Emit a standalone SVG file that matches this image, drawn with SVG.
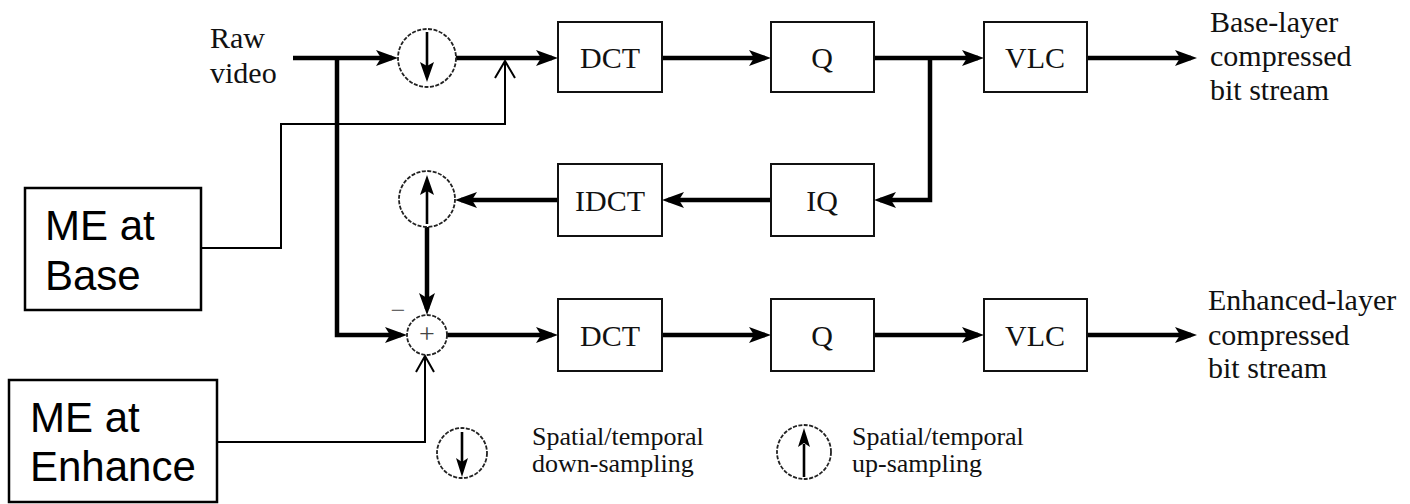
<svg xmlns="http://www.w3.org/2000/svg" width="1410" height="504" viewBox="0 0 1410 504">
<style>
  .blk{fill:#fff;stroke:#111;stroke-width:2}
  .me{fill:#fff;stroke:#000;stroke-width:2.5}
  .lbl{font-family:"Liberation Serif","Times New Roman",serif;font-size:30px;fill:#111}
  .ctr{text-anchor:middle}
  .leg{font-family:"Liberation Serif","Times New Roman",serif;font-size:26px;fill:#111}
  .metxt{font-family:"Liberation Sans",Arial,sans-serif;font-size:42px;fill:#000}
  .sig{fill:none;stroke:#000;stroke-width:4.5;marker-end:url(#ah)}
  .thin{fill:none;stroke:#000;stroke-width:2}
  .circ{fill:#fff;stroke:#222;stroke-width:1.8;stroke-dasharray:4 1.5}
  .inner{fill:none;stroke:#000;stroke-width:2.6}
  .head{fill:#000;stroke:none}
</style>
<defs>
  <marker id="ah" viewBox="-17 -9 24 18" refX="0" refY="0" markerWidth="24" markerHeight="18" markerUnits="userSpaceOnUse" orient="auto">
    <path d="M6,0 L-16,-8 L-11,0 L-16,8 Z" fill="#000"/>
  </marker>
</defs>

<g id="connectors">
  <path class="sig" d="M293,58 H392"/>
  <path class="sig" d="M337,58 V335 H401"/>
  <path class="sig" d="M456,58 H552"/>
  <path class="sig" d="M662,58 H765"/>
  <path class="sig" d="M874,58 H978"/>
  <path class="sig" d="M1087,58 H1191"/>
  <path class="sig" d="M930,58 V200 H880"/>
  <path class="sig" d="M771,200 H668"/>
  <path class="sig" d="M558,200 H461"/>
  <path class="sig" d="M427,227 V309"/>
  <path class="sig" d="M447,335 H552"/>
  <path class="sig" d="M662,335 H765"/>
  <path class="sig" d="M874,335 H978"/>
  <path class="sig" d="M1087,335 H1191"/>
  <path class="thin" d="M201,248 H281 V124 H505 V61"/>
  <path class="thin" d="M495,78 L505,61 L515,78"/>
  <path class="thin" d="M217,442 H425 V356"/>
  <path class="thin" d="M416,372 L425,356 L434,372"/>
</g>

<g id="raw-video">
  <text class="lbl" x="210" y="48">Raw</text>
  <text class="lbl" x="210" y="83">video</text>
</g>

<g id="down-sampler">
  <circle class="circ" cx="427" cy="58" r="29"/>
  <line class="inner" x1="427" y1="32" x2="427" y2="68"/>
  <path class="head" d="M427,82 L420,62 L427,66 L434,62 Z"/>
</g>

<g id="dct-base">
  <rect class="blk" x="558" y="22" width="104" height="70"/>
  <text class="lbl ctr" x="610" y="68">DCT</text>
</g>
<g id="q-base">
  <rect class="blk" x="771" y="22" width="103" height="70"/>
  <text class="lbl ctr" x="822" y="68">Q</text>
</g>
<g id="vlc-base">
  <rect class="blk" x="984" y="22" width="103" height="70"/>
  <text class="lbl ctr" x="1035" y="68">VLC</text>
</g>
<g id="base-output">
  <text class="lbl" x="1210" y="32">Base-layer</text>
  <text class="lbl" x="1210" y="66">compressed</text>
  <text class="lbl" x="1210" y="100">bit stream</text>
</g>

<g id="iq">
  <rect class="blk" x="771" y="164" width="103" height="72"/>
  <text class="lbl ctr" x="822" y="211">IQ</text>
</g>
<g id="idct">
  <rect class="blk" x="558" y="164" width="104" height="72"/>
  <text class="lbl ctr" x="610" y="211">IDCT</text>
</g>
<g id="up-sampler">
  <circle class="circ" cx="427" cy="199" r="28"/>
  <line class="inner" x1="427" y1="224" x2="427" y2="190"/>
  <path class="head" d="M427,175 L420,195 L427,191 L434,195 Z"/>
</g>

<g id="sum">
  <circle class="circ" cx="427" cy="335" r="20"/>
  <text x="427" y="343" text-anchor="middle" font-family="'Liberation Serif','Times New Roman',serif" font-size="28" fill="#444">+</text>
  <text x="398" y="319" text-anchor="middle" font-family="'Liberation Serif','Times New Roman',serif" font-size="26" fill="#666">−</text>
</g>

<g id="dct-enh">
  <rect class="blk" x="558" y="299" width="104" height="72"/>
  <text class="lbl ctr" x="610" y="346">DCT</text>
</g>
<g id="q-enh">
  <rect class="blk" x="771" y="299" width="103" height="72"/>
  <text class="lbl ctr" x="822" y="346">Q</text>
</g>
<g id="vlc-enh">
  <rect class="blk" x="984" y="299" width="103" height="72"/>
  <text class="lbl ctr" x="1035" y="346">VLC</text>
</g>
<g id="enh-output">
  <text class="lbl" x="1208" y="310">Enhanced-layer</text>
  <text class="lbl" x="1208" y="345">compressed</text>
  <text class="lbl" x="1208" y="378">bit stream</text>
</g>

<g id="me-base">
  <rect class="me" x="25" y="188" width="176" height="122"/>
  <text class="metxt" x="45" y="240">ME at</text>
  <text class="metxt" x="45" y="290">Base</text>
</g>
<g id="me-enh">
  <rect class="me" x="9" y="380" width="208" height="122"/>
  <text class="metxt" x="30" y="432">ME at</text>
  <text class="metxt" x="30" y="481">Enhance</text>
</g>

<g id="legend-down">
  <circle class="circ" cx="462" cy="453" r="25"/>
  <line class="inner" x1="462" y1="432" x2="462" y2="462"/>
  <path class="head" d="M462,477 L456,458 L462,462 L468,458 Z"/>
  <text class="leg" x="532" y="445">Spatial/temporal</text>
  <text class="leg" x="532" y="472">down-sampling</text>
</g>
<g id="legend-up">
  <circle class="circ" cx="804" cy="452" r="27"/>
  <line class="inner" x1="804" y1="477" x2="804" y2="444"/>
  <path class="head" d="M804,428 L798,447 L804,443 L810,447 Z"/>
  <text class="leg" x="852" y="445">Spatial/temporal</text>
  <text class="leg" x="852" y="472">up-sampling</text>
</g>
</svg>
